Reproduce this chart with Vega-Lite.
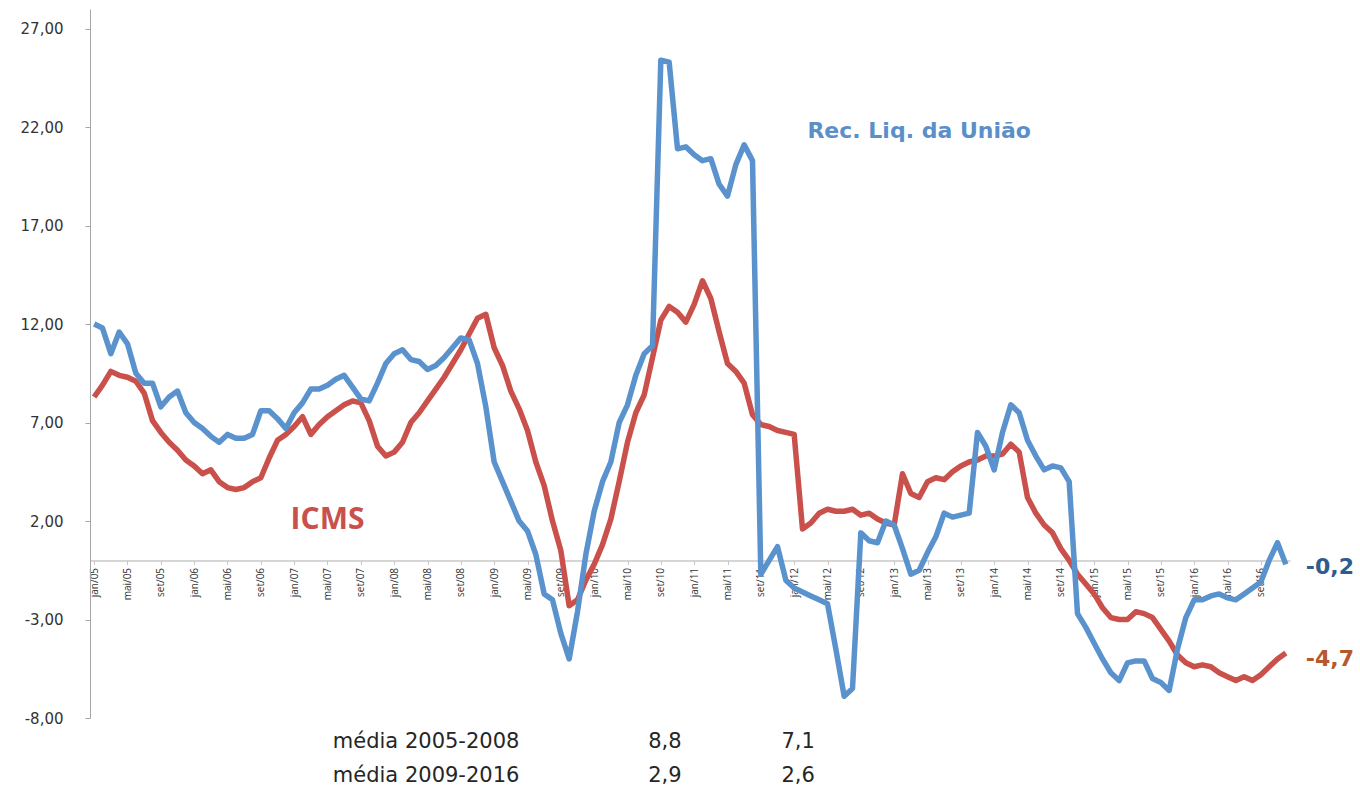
{
  "$schema": "https://vega.github.io/schema/vega-lite/v6.json",
  "autosize": "none",
  "width": 1200,
  "height": 709,
  "padding": {"left": 90, "top": 9, "right": 70, "bottom": 75},
  "background": "white",
  "config": {"view": {"stroke": null}},
  "datasets": {
    "serie": [
      {"m":"jan/05","u":12.0,"i":8.3},{"m":"fev/05","u":11.8,"i":8.9},{"m":"mar/05","u":10.5,"i":9.6},{"m":"abr/05","u":11.6,"i":9.4},{"m":"mai/05","u":11.0,"i":9.3},{"m":"jun/05","u":9.5,"i":9.1},{"m":"jul/05","u":9.0,"i":8.5},{"m":"ago/05","u":9.0,"i":7.1},{"m":"set/05","u":7.8,"i":6.5},{"m":"out/05","u":8.3,"i":6.0},{"m":"nov/05","u":8.6,"i":5.6},{"m":"dez/05","u":7.5,"i":5.1},
      {"m":"jan/06","u":7.0,"i":4.8},{"m":"fev/06","u":6.7,"i":4.4},{"m":"mar/06","u":6.3,"i":4.6},{"m":"abr/06","u":6.0,"i":4.0},{"m":"mai/06","u":6.4,"i":3.7},{"m":"jun/06","u":6.2,"i":3.6},{"m":"jul/06","u":6.2,"i":3.7},{"m":"ago/06","u":6.4,"i":4.0},{"m":"set/06","u":7.6,"i":4.2},{"m":"out/06","u":7.6,"i":5.2},{"m":"nov/06","u":7.2,"i":6.1},{"m":"dez/06","u":6.7,"i":6.4},
      {"m":"jan/07","u":7.5,"i":6.8},{"m":"fev/07","u":8.0,"i":7.3},{"m":"mar/07","u":8.7,"i":6.4},{"m":"abr/07","u":8.7,"i":6.9},{"m":"mai/07","u":8.9,"i":7.3},{"m":"jun/07","u":9.2,"i":7.6},{"m":"jul/07","u":9.4,"i":7.9},{"m":"ago/07","u":8.8,"i":8.1},{"m":"set/07","u":8.2,"i":8.0},{"m":"out/07","u":8.1,"i":7.1},{"m":"nov/07","u":9.0,"i":5.8},{"m":"dez/07","u":10.0,"i":5.3},
      {"m":"jan/08","u":10.5,"i":5.5},{"m":"fev/08","u":10.7,"i":6.0},{"m":"mar/08","u":10.2,"i":7.0},{"m":"abr/08","u":10.1,"i":7.5},{"m":"mai/08","u":9.7,"i":8.1},{"m":"jun/08","u":9.9,"i":8.7},{"m":"jul/08","u":10.3,"i":9.3},{"m":"ago/08","u":10.8,"i":10.0},{"m":"set/08","u":11.3,"i":10.7},{"m":"out/08","u":11.2,"i":11.5},{"m":"nov/08","u":10.0,"i":12.3},{"m":"dez/08","u":7.8,"i":12.5},
      {"m":"jan/09","u":5.0,"i":10.8},{"m":"fev/09","u":4.0,"i":9.9},{"m":"mar/09","u":3.0,"i":8.6},{"m":"abr/09","u":2.0,"i":7.7},{"m":"mai/09","u":1.5,"i":6.6},{"m":"jun/09","u":0.3,"i":5.0},{"m":"jul/09","u":-1.7,"i":3.8},{"m":"ago/09","u":-2.0,"i":2.0},{"m":"set/09","u":-3.7,"i":0.5},{"m":"out/09","u":-5.0,"i":-2.3},{"m":"nov/09","u":-2.6,"i":-2.0},{"m":"dez/09","u":0.3,"i":-1.0},
      {"m":"jan/10","u":2.5,"i":-0.2},{"m":"fev/10","u":4.0,"i":0.8},{"m":"mar/10","u":5.0,"i":2.1},{"m":"abr/10","u":7.0,"i":4.0},{"m":"mai/10","u":7.9,"i":6.0},{"m":"jun/10","u":9.4,"i":7.5},{"m":"jul/10","u":10.5,"i":8.4},{"m":"ago/10","u":10.9,"i":10.3},{"m":"set/10","u":25.4,"i":12.2},{"m":"out/10","u":25.3,"i":12.9},{"m":"nov/10","u":20.9,"i":12.6},{"m":"dez/10","u":21.0,"i":12.1},
      {"m":"jan/11","u":20.6,"i":13.0},{"m":"fev/11","u":20.3,"i":14.2},{"m":"mar/11","u":20.4,"i":13.3},{"m":"abr/11","u":19.1,"i":11.6},{"m":"mai/11","u":18.5,"i":10.0},{"m":"jun/11","u":20.1,"i":9.6},{"m":"jul/11","u":21.1,"i":9.0},{"m":"ago/11","u":20.3,"i":7.4},{"m":"set/11","u":-0.7,"i":6.9},{"m":"out/11","u":0.0,"i":6.8},{"m":"nov/11","u":0.7,"i":6.6},{"m":"dez/11","u":-1.0,"i":6.5},
      {"m":"jan/12","u":-1.4,"i":6.4},{"m":"fev/12","u":-1.6,"i":1.6},{"m":"mar/12","u":-1.8,"i":1.9},{"m":"abr/12","u":-2.0,"i":2.4},{"m":"mai/12","u":-2.2,"i":2.6},{"m":"jun/12","u":-4.5,"i":2.5},{"m":"jul/12","u":-6.9,"i":2.5},{"m":"ago/12","u":-6.5,"i":2.6},{"m":"set/12","u":1.4,"i":2.3},{"m":"out/12","u":1.0,"i":2.4},{"m":"nov/12","u":0.9,"i":2.1},{"m":"dez/12","u":2.0,"i":1.9},
      {"m":"jan/13","u":1.8,"i":1.8},{"m":"fev/13","u":0.6,"i":4.4},{"m":"mar/13","u":-0.7,"i":3.4},{"m":"abr/13","u":-0.5,"i":3.2},{"m":"mai/13","u":0.4,"i":4.0},{"m":"jun/13","u":1.2,"i":4.2},{"m":"jul/13","u":2.4,"i":4.1},{"m":"ago/13","u":2.2,"i":4.5},{"m":"set/13","u":2.3,"i":4.8},{"m":"out/13","u":2.4,"i":5.0},{"m":"nov/13","u":6.5,"i":5.1},{"m":"dez/13","u":5.8,"i":5.3},
      {"m":"jan/14","u":4.6,"i":5.3},{"m":"fev/14","u":6.5,"i":5.4},{"m":"mar/14","u":7.9,"i":5.9},{"m":"abr/14","u":7.5,"i":5.5},{"m":"mai/14","u":6.1,"i":3.2},{"m":"jun/14","u":5.3,"i":2.4},{"m":"jul/14","u":4.6,"i":1.8},{"m":"ago/14","u":4.8,"i":1.4},{"m":"set/14","u":4.7,"i":0.6},{"m":"out/14","u":4.0,"i":0.0},{"m":"nov/14","u":-2.7,"i":-0.7},{"m":"dez/14","u":-3.4,"i":-1.2},
      {"m":"jan/15","u":-4.2,"i":-1.7},{"m":"fev/15","u":-5.0,"i":-2.4},{"m":"mar/15","u":-5.7,"i":-2.9},{"m":"abr/15","u":-6.1,"i":-3.0},{"m":"mai/15","u":-5.2,"i":-3.0},{"m":"jun/15","u":-5.1,"i":-2.6},{"m":"jul/15","u":-5.1,"i":-2.7},{"m":"ago/15","u":-6.0,"i":-2.9},{"m":"set/15","u":-6.2,"i":-3.5},{"m":"out/15","u":-6.6,"i":-4.1},{"m":"nov/15","u":-4.5,"i":-4.8},{"m":"dez/15","u":-2.9,"i":-5.2},
      {"m":"jan/16","u":-2.0,"i":-5.4},{"m":"fev/16","u":-2.0,"i":-5.3},{"m":"mar/16","u":-1.8,"i":-5.4},{"m":"abr/16","u":-1.7,"i":-5.7},{"m":"mai/16","u":-1.9,"i":-5.9},{"m":"jun/16","u":-2.0,"i":-6.1},{"m":"jul/16","u":-1.7,"i":-5.9},{"m":"ago/16","u":-1.4,"i":-6.1},{"m":"set/16","u":-1.1,"i":-5.8},{"m":"out/16","u":0.0,"i":-5.4},{"m":"nov/16","u":0.9,"i":-5.0},{"m":"dez/16","u":-0.2,"i":-4.7}
    ]
  },
  "encoding": {
    "x": {
      "field": "m", "type": "ordinal", "sort": null,
      "scale": {"type": "point", "padding": 0.5},
      "axis": {
        "title": null,
        "offset": -157.6,
        "values": ["jan/05","mai/05","set/05","jan/06","mai/06","set/06","jan/07","mai/07","set/07","jan/08","mai/08","set/08","jan/09","mai/09","set/09","jan/10","mai/10","set/10","jan/11","mai/11","set/11","jan/12","mai/12","set/12","jan/13","mai/13","set/13","jan/14","mai/14","set/14","jan/15","mai/15","set/15","jan/16","mai/16","set/16"],
        "labelAngle": 270,
        "labelAlign": "right",
        "labelBaseline": "middle",
        "labelFont": "Open Sans",
        "labelFontSize": 10,
        "labelColor": "#333333",
        "labelPadding": 3,
        "domainColor": "#C8C8C8",
        "domainWidth": 1.5,
        "tickColor": "#C8C8C8",
        "tickSize": 4,
        "grid": false
      }
    }
  },
  "layer": [
    {
      "data": {"name": "serie"},
      "mark": {"type": "line", "color": "#C9504B", "strokeWidth": 5.5, "strokeJoin": "round"},
      "encoding": {
        "y": {
          "field": "i", "type": "quantitative",
          "scale": {"domain": [-8, 28], "nice": false, "zero": false},
          "axis": {
            "title": null,
            "values": [-8, -3, 2, 7, 12, 17, 22, 27],
            "labelExpr": "replace(replace(format(datum.value, '.2f'), '.', ','), '\u2212', '-')",
            "labelFont": "DejaVu Sans",
            "labelFontSize": 15,
            "labelColor": "#333333",
            "labelPadding": 22,
            "domainColor": "#A6A6A6",
            "tickColor": "#A6A6A6",
            "tickSize": 5,
            "grid": false
          }
        }
      }
    },
    {
      "data": {"name": "serie"},
      "mark": {"type": "line", "color": "#5A92CD", "strokeWidth": 5.5, "strokeJoin": "round"},
      "encoding": {"y": {"field": "u", "type": "quantitative"}}
    },
    {
      "data": {"values": [{"m": "abr/13", "v": 21.8, "t": "Rec. Liq. da União"}]},
      "mark": {"type": "text", "font": "DejaVu Sans", "fontWeight": "bold", "fontSize": 22, "color": "#5B8FC9", "align": "center", "baseline": "middle"},
      "encoding": {"y": {"field": "v", "type": "quantitative"}, "text": {"field": "t"}}
    },
    {
      "data": {"values": [{"m": "mai/07", "v": 2.05, "t": "ICMS"}]},
      "mark": {"type": "text", "font": "Open Sans", "fontWeight": "bold", "fontSize": 30, "color": "#C9504B", "align": "center", "baseline": "middle"},
      "encoding": {"y": {"field": "v", "type": "quantitative"}, "text": {"field": "t"}}
    },
    {
      "data": {"values": [{"m": "dez/16", "v": -0.35, "t": "-0,2"}]},
      "mark": {"type": "text", "font": "DejaVu Sans", "fontWeight": "bold", "fontSize": 22, "color": "#2F5B8E", "align": "left", "baseline": "middle", "dx": 20},
      "encoding": {"y": {"field": "v", "type": "quantitative"}, "text": {"field": "t"}}
    },
    {
      "data": {"values": [{"m": "dez/16", "v": -5.0, "t": "-4,7"}]},
      "mark": {"type": "text", "font": "DejaVu Sans", "fontWeight": "bold", "fontSize": 22, "color": "#B5582E", "align": "left", "baseline": "middle", "dx": 20},
      "encoding": {"y": {"field": "v", "type": "quantitative"}, "text": {"field": "t"}}
    },
    {
      "data": {"values": [
        {"m": "jun/07", "v": -9.22, "t": "média 2005-2008"},
        {"m": "jun/07", "v": -10.95, "t": "média 2009-2016"}
      ]},
      "mark": {"type": "text", "font": "DejaVu Sans", "fontSize": 21, "color": "#262626", "align": "left", "baseline": "middle", "dx": -3},
      "encoding": {"y": {"field": "v", "type": "quantitative"}, "text": {"field": "t"}}
    },
    {
      "data": {"values": [
        {"m": "set/10", "v": -9.22, "t": "8,8"},
        {"m": "set/10", "v": -10.95, "t": "2,9"},
        {"m": "jan/12", "v": -9.22, "t": "7,1"},
        {"m": "jan/12", "v": -10.95, "t": "2,6"}
      ]},
      "mark": {"type": "text", "font": "DejaVu Sans", "fontSize": 21, "color": "#262626", "align": "center", "baseline": "middle", "dx": 4},
      "encoding": {"y": {"field": "v", "type": "quantitative"}, "text": {"field": "t"}}
    }
  ]
}
